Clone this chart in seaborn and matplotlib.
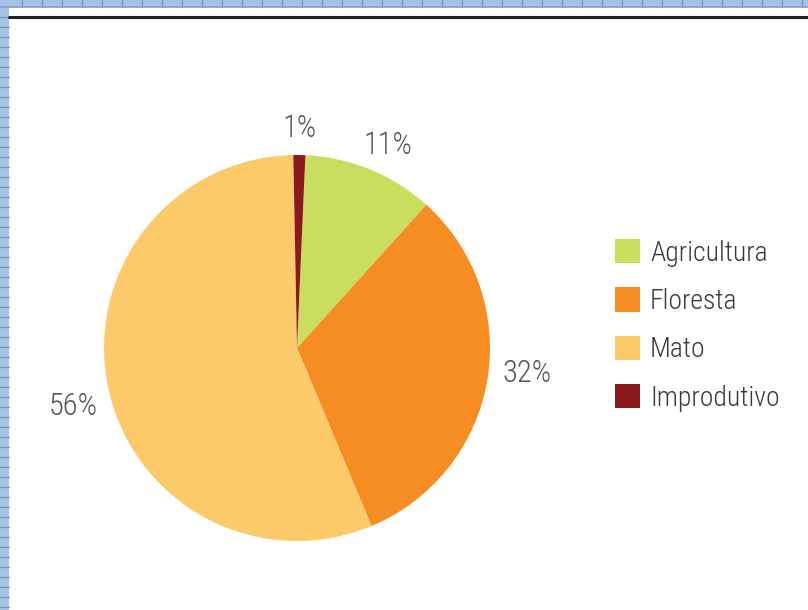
import matplotlib
matplotlib.use("Agg")
import numpy as np
import matplotlib.pyplot as plt
import seaborn as sns
from matplotlib.patches import Patch, Rectangle
from matplotlib.lines import Line2D

categories = ["Agricultura", "Floresta", "Mato", "Improdutivo"]
values = [11, 32, 56, 1]
pct_labels = ["11%", "32%", "56%", "1%"]
colors = ["#c9dd5f", "#f58d22", "#fdca6a", "#8b1a1c"]

sns.set_theme(style="white")
FONT = ["Roboto Condensed", "PT Sans Narrow", "DejaVu Sans"]
plt.rcParams["font.family"] = FONT
plt.rcParams["font.weight"] = "light"

W, H = 808, 610
fig = plt.figure(figsize=(W / 100, H / 100), dpi=100, facecolor="white")

# decorative blue grid border (top and left)
fig.add_artist(Rectangle((0, 1 - 7 / H), 1, 7 / H, transform=fig.transFigure,
                         facecolor="#a9c1e3", edgecolor="none"))
fig.add_artist(Rectangle((0, 0), 9 / W, 1, transform=fig.transFigure,
                         facecolor="#a9c1e3", edgecolor="none"))
for yy in range(17, H, 10):
    fig.add_artist(Line2D([0, 9 / W], [1 - yy / H] * 2, transform=fig.transFigure,
                          color="#6f95cc", lw=0.9))
for xx in range(22, W, 20):
    fig.add_artist(Line2D([xx / W] * 2, [1, 1 - 7 / H], transform=fig.transFigure,
                          color="#6f95cc", lw=0.9))
fig.add_artist(Line2D([0, 1], [1 - 7 / H] * 2, transform=fig.transFigure,
                      color="#7d9fd0", lw=1.2))
# black rule
fig.add_artist(Line2D([9 / W, 1], [1 - 17 / H] * 2, transform=fig.transFigure,
                      color="#222222", lw=2.2))

# pie
cx, cy, r = 297, 348, 193
ax = fig.add_axes([(cx - r) / W, (H - cy - r) / H, 2 * r / W, 2 * r / H])
wedges, texts = ax.pie(values, colors=colors, startangle=87.5, counterclock=False,
                       labels=pct_labels, labeldistance=1.18,
                       wedgeprops=dict(linewidth=0))
# label placement (distance, angular shift in degrees) per slice
lab_dist = [1.15, 1.20, 1.20, 1.135]
lab_shift = [-2.0, 3.5, 2.7, 0.0]
for w, t, d, s in zip(wedges, texts, lab_dist, lab_shift):
    ang = np.deg2rad((w.theta1 + w.theta2) / 2 + s)
    t.set_position((d * np.cos(ang), d * np.sin(ang)))
    t.set_horizontalalignment("center")
    t.set_verticalalignment("center")
    t.set_fontsize(22)
    t.set_fontweight("light")
    t.set_color("#555555")
    t.set_family(FONT)
ax.set_xlim(-1, 1)
ax.set_ylim(-1, 1)
ax.axis("off")

# legend
fs = 20
fpx = fs * 100 / 72
handles = [Patch(facecolor=c, edgecolor="none") for c in colors]
leg = fig.legend(handles, categories, loc="upper left",
                 bbox_to_anchor=(615 / W, 1 - 239 / H), frameon=False,
                 handlelength=25 / fpx, handleheight=27 / fpx,
                 handletextpad=10 / fpx, labelspacing=0.74,
                 borderpad=0, borderaxespad=0,
                 prop={"family": FONT, "size": fs, "weight": "light"})
for t in leg.get_texts():
    t.set_color("#3a3a3a")

fig.savefig("out.png", dpi=100, facecolor="white")
